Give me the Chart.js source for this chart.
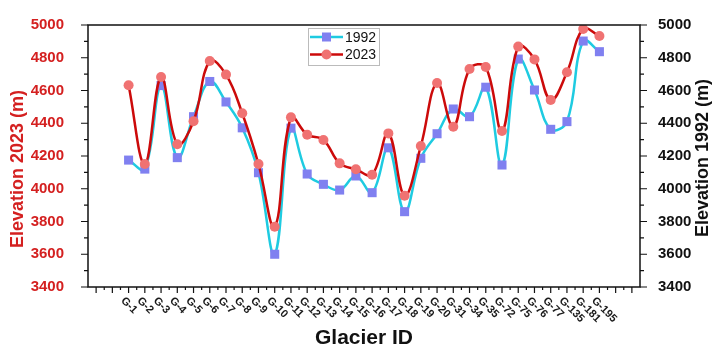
<!DOCTYPE html>
<html>
<head>
<meta charset="utf-8">
<script src="https://cdn.jsdelivr.net/npm/chart.js@4"></script>
<style>
    html, body { margin: 0; padding: 0; background: #fff; }
    #wrap { width: 713px; height: 355px; }
</style>
</head>
<body>
<div id="wrap"><canvas id="elevChart" width="713" height="355"></canvas></div>
<script>
// 冰川编号 + 两期高程 (m)
const glacierIds = ['G-1','G-2','G-3','G-4','G-5','G-6','G-7','G-8','G-9','G-10',
    'G-11','G-12','G-13','G-14','G-15','G-16','G-17','G-18','G-19','G-20',
    'G-31','G-34','G-35','G-72','G-75','G-76','G-77','G-135','G-181','G-195'];
const elev1992 = [4175, 4120, 4630, 4190, 4440, 4655, 4530, 4372, 4098, 3600,
    4370, 4090, 4027, 3992, 4078, 3976, 4250, 3860, 4186, 4336,
    4487, 4440, 4620, 4145, 4792, 4603, 4363, 4410, 4902, 4837];
const elev2023 = [4632, 4151, 4682, 4272, 4412, 4780, 4697, 4461, 4151, 3768,
    4436, 4330, 4298, 4155, 4119, 4086, 4338, 3958, 4261, 4646,
    4379, 4731, 4743, 4353, 4868, 4790, 4542, 4711, 4976, 4933];
const yTickMin = 3400, yTickMax = 5000;

const RED = '#d42020';
const FONT = "Arial, 'Liberation Sans', sans-serif";

// 边框、刻度、斜体x标签、y轴标题、图例 —— 全部按 scale 像素换算
const decorPlugin = {
    id: 'decor',
    afterDraw(chart) {
        const { ctx, chartArea: a, scales } = chart;
        const xs = scales.x, yl = scales.y, yr = scales.y1;
        ctx.save();
        ctx.strokeStyle = '#111';
        ctx.lineWidth = 1.5;
        ctx.strokeRect(a.left, a.top, a.right - a.left, a.bottom - a.top);

        // y 轴刻度（主 200 / 次 100）
        ctx.lineWidth = 1.2;
        ctx.beginPath();
        for (let v = yTickMin; v <= yTickMax; v += 100) {
            const len = v % 200 === 0 ? 7 : 4;
            const py = yl.getPixelForValue(v);
            ctx.moveTo(a.left, py); ctx.lineTo(a.left - len, py);
            const pr = yr.getPixelForValue(v);
            ctx.moveTo(a.right, pr); ctx.lineTo(a.right + len, pr);
        }
        // x 轴刻度（每个冰川一长刻度，中间一短刻度）
        for (let i = -2; i <= glacierIds.length + 1; i += 0.5) {
            const px = xs.getPixelForValue(i);
            const len = Number.isInteger(i) ? 6 : 3;
            ctx.moveTo(px, a.bottom); ctx.lineTo(px, a.bottom + len);
        }
        ctx.stroke();

        // x 标签：顺时针 45°
        ctx.fillStyle = '#1a1a1a';
        ctx.font = `bold 11px ${FONT}`;
        ctx.textAlign = 'left';
        ctx.textBaseline = 'middle';
        glacierIds.forEach((id, i) => {
            const px = xs.getPixelForValue(i);
            ctx.save();
            ctx.translate(px - 6, a.bottom + 12);
            ctx.rotate(Math.PI / 4);
            ctx.fillText(id, 0, 0);
            ctx.restore();
        });

        // 左右 y 轴标题（都是自下而上）
        const midY = (a.top + a.bottom) / 2;
        ctx.font = `bold 18px ${FONT}`;
        ctx.textAlign = 'center';
        ctx.textBaseline = 'middle';
        ctx.save();
        ctx.translate(18, midY + 13);
        ctx.rotate(-Math.PI / 2);
        ctx.fillStyle = RED;
        ctx.fillText('Elevation 2023 (m)', 0, 0);
        ctx.restore();
        ctx.save();
        ctx.translate(703, midY + 2);
        ctx.rotate(-Math.PI / 2);
        ctx.fillStyle = '#111';
        ctx.fillText('Elevation 1992 (m)', 0, 0);
        ctx.restore();

        // 图例
        const lx = 308, ly = 28;
        ctx.fillStyle = '#fff';
        ctx.fillRect(lx, ly, 71, 37);
        ctx.strokeStyle = '#bbb';
        ctx.lineWidth = 1;
        ctx.strokeRect(lx + 0.5, ly + 0.5, 71, 37);
        chart.data.datasets.forEach((ds, k) => {
            const ry = ly + 9 + k * 17.5;
            ctx.strokeStyle = ds.borderColor;
            ctx.lineWidth = 2.5;
            ctx.beginPath();
            ctx.moveTo(lx + 2, ry); ctx.lineTo(lx + 35, ry);
            ctx.stroke();
            ctx.fillStyle = ds.pointBackgroundColor;
            if (ds.pointStyle === 'rect') {
                ctx.fillRect(lx + 14, ry - 4.5, 9, 9);
            } else {
                ctx.beginPath(); ctx.arc(lx + 18.5, ry, 5, 0, Math.PI * 2); ctx.fill();
            }
            ctx.fillStyle = '#111';
            ctx.font = `14px ${FONT}`;
            ctx.textAlign = 'left';
            ctx.fillText(ds.label, lx + 37, ry + 1);
        });
        ctx.restore();
    }
};

const toPoints = arr => arr.map((v, i) => ({ x: i, y: v }));
const plainTick = v => String(v);

new Chart(document.getElementById('elevChart').getContext('2d'), {
    type: 'line',
    data: {
        datasets: [
            { label: '1992', data: toPoints(elev1992), yAxisID: 'y1', order: 2,
              borderColor: '#1ecbe1', borderWidth: 2.5, tension: 0.4,
              pointStyle: 'rect', pointRadius: 6.4, pointBackgroundColor: '#8080f0', pointBorderWidth: 0 },
            { label: '2023', data: toPoints(elev2023), yAxisID: 'y', order: 1,
              borderColor: '#cc0a0a', borderWidth: 2.5, tension: 0.4,
              pointStyle: 'circle', pointRadius: 5, pointBackgroundColor: '#f07272', pointBorderWidth: 0 }
        ]
    },
    options: {
        responsive: false, animation: false,
        layout: { padding: { top: 8, left: 0, right: 0, bottom: 0 } },
        plugins: { legend: { display: false }, tooltip: { enabled: false } },
        scales: {
            x: {
                type: 'linear', min: -2.5, max: glacierIds.length + 1.5,
                grid: { display: false }, border: { display: false },
                ticks: { display: false },
                title: { display: true, text: 'Glacier ID', color: '#111', font: { family: FONT, size: 21, weight: 'bold' }, padding: { top: 0, bottom: 4 } },
                afterFit(s) { s.height = 68; }
            },
            y: {
                position: 'left', min: yTickMin, max: yTickMax,
                grid: { display: false }, border: { display: false },
                ticks: { stepSize: 200, padding: 16, color: RED, callback: plainTick, font: { family: FONT, size: 15, weight: 'bold' } },
                afterFit(s) { s.width = 88; }
            },
            y1: {
                position: 'right', min: yTickMin, max: yTickMax,
                grid: { display: false }, border: { display: false },
                ticks: { stepSize: 200, padding: 10, color: '#111', callback: plainTick, font: { family: FONT, size: 15, weight: 'bold' } },
                afterFit(s) { s.width = 73; }
            }
        }
    },
    plugins: [decorPlugin]
});
</script>
</body>
</html>
